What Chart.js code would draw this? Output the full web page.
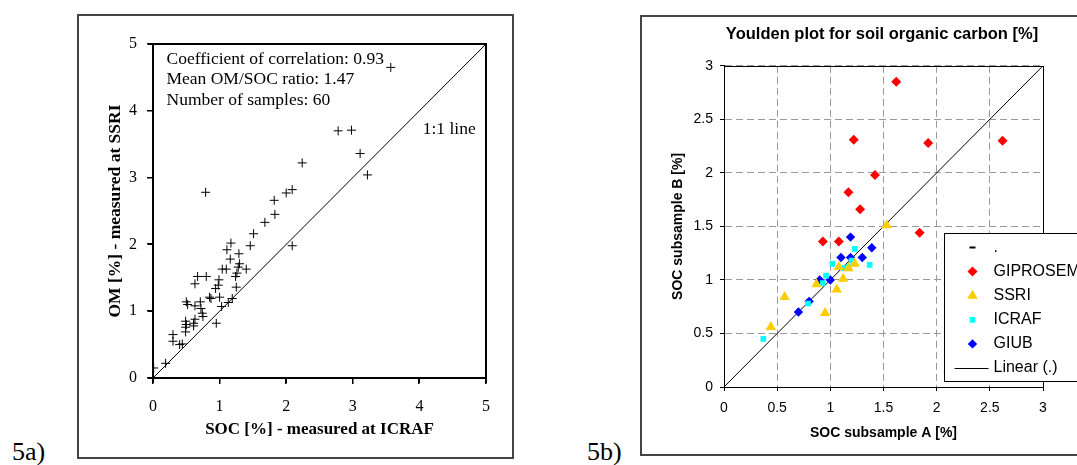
<!DOCTYPE html>
<html>
<head>
<meta charset="utf-8">
<script src="https://cdn.jsdelivr.net/npm/chart.js@4.4.1/dist/chart.umd.min.js"></script>
<style>
  html, body { margin: 0; padding: 0; background: #fff; width: 1077px; height: 465px; overflow: hidden; }
  .frame { position: absolute; border: 2px solid #444; box-sizing: border-box; }
  #frameA { left: 77px; top: 14px; width: 437px; height: 445px; }
  #frameB { left: 640px; top: 15px; width: 470px; height: 441px; }
  .fig { position: absolute; top: 439px; font-family: "Liberation Serif", "Times New Roman", serif; font-size: 26px; line-height: 26px; color: #000; }
  #chartA { position: absolute; left: 77px; top: 14px; }
  #chartB { position: absolute; left: 640px; top: 15px; }
</style>
</head>
<body>
<div class="frame" id="frameA"></div>
<div class="frame" id="frameB"></div>
<div class="fig" style="left:12px">5a)</div>
<div class="fig" style="left:587px">5b)</div>
<canvas id="chartA" width="437" height="445"></canvas>
<canvas id="chartB" width="484" height="441"></canvas>
<script>
// ---- 5a: OM (SSRI) vs SOC (ICRAF) ----
const socIcraf = [3.57, 2.78, 2.98, 3.11, 3.22, 2.24, 0.79, 2.00, 2.09, 1.82,
                  1.83, 1.68, 1.51, 1.46, 2.09, 1.17, 1.11, 1.29, 1.16, 1.04,
                  1.10, 1.30, 1.28, 1.40, 1.26, 1.24, 1.25, 1.19, 1.13, 0.67,
                  0.80, 0.63, 0.99, 0.98, 0.94, 0.85, 0.87, 1.00, 1.03, 0.95,
                  0.50, 0.52, 0.63, 0.71, 0.72, 0.74, 0.75, 0.49, 0.50, 0.49,
                  0.63, 0.61, 0.61, 0.49, 0.30, 0.30, 0.40, 0.44, 0.19, 0.01];
const omSsri = [4.65, 3.70, 3.71, 3.36, 3.04, 3.22, 2.78, 2.77, 2.82, 2.66,
                2.45, 2.33, 2.16, 1.98, 1.98, 2.02, 1.92, 1.86, 1.78, 1.63,
                1.63, 1.71, 1.66, 1.63, 1.57, 1.52, 1.36, 1.19, 1.13, 1.52,
                1.52, 1.41, 1.47, 1.39, 1.34, 1.21, 1.19, 1.21, 1.07, 0.82,
                1.14, 1.10, 1.08, 1.14, 1.04, 0.97, 0.92, 0.85, 0.80, 0.76,
                0.88, 0.82, 0.78, 0.69, 0.65, 0.55, 0.50, 0.51, 0.22, 0.15];
const ticksA = ['0', '1', '2', '3', '4', '5'];
const lineA = [0, 5];
const notesA = ['Coefficient of correlation: 0.93', 'Mean OM/SOC ratio: 1.47', 'Number of samples: 60'];

// ---- 5b: Youlden plot ----
const giprosemA = [1.62, 1.22, 1.92, 2.62, 1.42, 1.17, 1.28, 1.84, 0.93, 1.08];
const giprosemB = [2.85, 2.31, 2.28, 2.30, 1.98, 1.82, 1.66, 1.44, 1.36, 1.36];
const ssriA = [1.53, 0.57, 0.44, 0.95, 1.06, 1.12, 0.87, 1.08, 1.17, 1.23];
const ssriB = [1.51, 0.84, 0.56, 0.69, 0.91, 1.01, 0.96, 1.12, 1.11, 1.15];
const icrafA = [0.37, 1.02, 1.23, 1.37, 0.96, 1.13, 1.20, 0.79, 0.93, 1.17];
const icrafB = [0.45, 1.15, 1.29, 1.14, 1.04, 1.11, 1.18, 0.78, 0.97, 1.12];
const giubA = [1.19, 1.39, 1.10, 1.19, 1.30, 0.90, 1.00, 0.80, 0.70];
const giubB = [1.40, 1.30, 1.21, 1.21, 1.21, 1.00, 1.00, 0.80, 0.70];
const ticksB = ['0', '0.5', '1', '1.5', '2', '2.5', '3'];
const lineB = [0, 3];

const SERIF = '"Liberation Serif", "Times New Roman", serif';
const SANS = '"Liberation Sans", Arial, sans-serif';

function pts(xs, ys) { return xs.map((x, i) => ({x: x, y: ys[i]})); }

// 5a plot box: four sides plus outside tick marks
const boxA = {
    id: 'boxA',
    afterDraw(chart) {
        const {ctx, chartArea: a, scales} = chart;
        const l = Math.round(a.left), t = Math.round(a.top);
        const r = Math.round(a.right), b = Math.round(a.bottom);
        ctx.save();
        ctx.fillStyle = '#000';
        ctx.fillRect(l - 1, t - 1, r - l + 2, 2);      // top
        ctx.fillRect(r - 1, t - 1, 2, b - t + 2);      // right
        ctx.fillRect(l - 1, b - 1, r - l + 2, 2);      // bottom
        ctx.fillRect(l - 1, t - 1, 2, b - t + 2);      // left
        scales.x.ticks.forEach(tk => {
            const px = Math.round(scales.x.getPixelForValue(tk.value));
            ctx.fillRect(px - 1, b, 1.5, 6);
        });
        scales.y.ticks.forEach(tk => {
            const py = Math.round(scales.y.getPixelForValue(tk.value));
            ctx.fillRect(l - 6, py - 1, 6, 1.5);
        });
        ctx.restore();
    }
};

// 5b: top + right edges of the plot box
const boxB = {
    id: 'boxB',
    afterDraw(chart) {
        const {ctx, chartArea: a} = chart;
        const l = Math.round(a.left), t = Math.round(a.top);
        const r = Math.round(a.right), b = Math.round(a.bottom);
        ctx.save();
        ctx.fillStyle = '#000';
        ctx.fillRect(l, t, r - l + 1, 1);
        ctx.fillRect(r, t, 1, b - t + 1);
        ctx.restore();
    }
};

const notesPlugin = {
    id: 'notesA',
    afterDraw(chart) {
        const {ctx, chartArea: a, scales} = chart;
        ctx.save();
        ctx.fillStyle = '#000';
        ctx.font = '17.5px ' + SERIF;
        ctx.textBaseline = 'middle';
        ctx.textAlign = 'left';
        notesA.forEach((t, i) => ctx.fillText(t, a.left + 13.5, a.top + 15 + i * 20.7));
        ctx.fillText('1:1 line', scales.x.getPixelForValue(4.05), scales.y.getPixelForValue(3.72));
        ctx.restore();
    }
};

new Chart(document.getElementById('chartA'), {
    type: 'scatter',
    data: {
        datasets: [
            {
                data: pts(socIcraf, omSsri),
                pointStyle: 'cross',
                pointRadius: 4.5,
                borderColor: '#000',
                borderWidth: 1
            },
            {
                data: pts(lineA, lineA),
                showLine: true,
                borderColor: '#000',
                borderWidth: 1,
                pointRadius: 0
            }
        ]
    },
    options: {
        responsive: false,
        animation: false,
        devicePixelRatio: 1,
        layout: {padding: {left: 0, top: 30, right: 28, bottom: 0}},
        plugins: {legend: {display: false}, tooltip: {enabled: false}},
        scales: {
            x: {
                min: 0, max: 5,
                ticks: {stepSize: 1, padding: 14, color: '#000', font: {family: SERIF, size: 16},
                        callback: (v, i) => ticksA[i]},
                grid: {drawOnChartArea: false, tickLength: 5, color: '#000'},
                border: {color: '#000', width: 1},
                title: {display: true, text: 'SOC [%] - measured at ICRAF', color: '#000',
                        font: {family: SERIF, size: 17, weight: 'bold'}, padding: {top: 0, bottom: 19}},
                afterFit: s => { s.height = 81; }
            },
            y: {
                min: 0, max: 5,
                ticks: {stepSize: 1, padding: 11, color: '#000', font: {family: SERIF, size: 16},
                        callback: (v, i) => ticksA[i]},
                grid: {drawOnChartArea: false, tickLength: 5, color: '#000'},
                border: {color: '#000', width: 1},
                title: {display: true, text: 'OM [%] - measured at SSRI', color: '#000',
                        font: {family: SERIF, size: 17.5, weight: 'bold'}, padding: {top: 28, bottom: 0}},
                afterFit: s => { s.width = 76; }
            }
        }
    },
    plugins: [boxA, notesPlugin]
});

const seriesB = [
    {label: 'GIPROSEM', data: pts(giprosemA, giprosemB), pointStyle: 'rectRot', pointRadius: 5, backgroundColor: '#ff0000'},
    {label: 'SSRI', data: pts(ssriA, ssriB), pointStyle: 'triangle', pointRadius: 6, backgroundColor: '#ffcc00'},
    {label: 'ICRAF', data: pts(icrafA, icrafB), pointStyle: 'rect', pointRadius: 4, backgroundColor: '#00ffff'},
    {label: 'GIUB', data: pts(giubA, giubB), pointStyle: 'rectRot', pointRadius: 4.7, backgroundColor: '#0000ff'}
];

const legendB = {
    id: 'legendB',
    afterDraw(chart) {
        const {ctx, chartArea: a, width} = chart;
        const left = Math.round(a.right - 99.5) + 0.5, top = Math.round(a.top + 167.5) + 0.5, h = 148;
        ctx.save();
        ctx.fillStyle = '#fff';
        ctx.fillRect(left, top, width - left + 5, h);
        ctx.strokeStyle = '#000';
        ctx.lineWidth = 1;
        ctx.strokeRect(left, top, width - left + 5, h);
        ctx.font = '16px ' + SANS;
        ctx.textBaseline = 'middle';
        ctx.textAlign = 'left';
        const mx = left + 28, tx = left + 49;
        let y = top + 14;
        // first entry: dash marker with "."
        ctx.fillStyle = '#000';
        ctx.fillRect(mx - 3, y - 1, 6, 2);
        ctx.fillText('.', tx, y);
        chart.data.datasets.forEach((ds, i) => {
            if (!ds.label) return;
            y = top + 14 + (i + 1) * 24.1;
            ctx.fillStyle = ds.backgroundColor;
            Chart.helpers.drawPoint(ctx, {pointStyle: ds.pointStyle, radius: ds.pointRadius, rotation: 0, borderWidth: 0}, mx, y);
            ctx.fillStyle = '#000';
            ctx.fillText(ds.label, tx, y);
        });
        y = top + 14 + 5 * 24.1;
        ctx.beginPath();
        ctx.moveTo(left + 10, Math.round(y) + 0.5);
        ctx.lineTo(left + 44, Math.round(y) + 0.5);
        ctx.stroke();
        ctx.fillText('Linear (.)', tx, y);
        ctx.restore();
    }
};

new Chart(document.getElementById('chartB'), {
    type: 'scatter',
    data: {
        datasets: seriesB.map(s => Object.assign({pointBorderWidth: 0, borderWidth: 0}, s)).concat([{
            data: pts(lineB, lineB),
            showLine: true,
            borderColor: '#000',
            borderWidth: 1,
            pointRadius: 0
        }])
    },
    options: {
        responsive: false,
        animation: false,
        devicePixelRatio: 1,
        layout: {padding: 0},
        plugins: {
            legend: {display: false},
            tooltip: {enabled: false},
            title: {display: true, text: 'Youlden plot for soil organic carbon [%]', color: '#000',
                    font: {family: SANS, size: 16.5, weight: 'bold'}, padding: {top: 10, bottom: 21}}
        },
        scales: {
            x: {
                min: 0, max: 3,
                ticks: {stepSize: 0.5, padding: 8.5, color: '#000', font: {family: SANS, size: 14},
                        callback: (v, i) => ticksB[i]},
                grid: {color: '#9a9a9a', tickLength: 4, tickColor: '#000'},
                border: {color: '#000', width: 1, dash: [7, 4]},
                title: {display: true, text: 'SOC subsample A [%]', color: '#000',
                        font: {family: SANS, size: 14, weight: 'bold'}, padding: {top: 0, bottom: 14.6}},
                afterFit: s => { s.height = 69; }
            },
            y: {
                min: 0, max: 3,
                ticks: {stepSize: 0.5, padding: 7, color: '#000', font: {family: SANS, size: 14},
                        callback: (v, i) => ticksB[i]},
                grid: {color: '#9a9a9a', tickLength: 4, tickColor: '#000'},
                border: {color: '#000', width: 1, dash: [7, 4]},
                title: {display: true, text: 'SOC subsample B [%]', color: '#000',
                        font: {family: SANS, size: 14, weight: 'bold'}, padding: {top: 29.3, bottom: 0}},
                afterFit: s => { s.width = 84; }
            },
            yr: {
                position: 'right',
                ticks: {display: false},
                grid: {display: false},
                border: {display: false},
                afterFit: s => { s.width = 81; }
            }
        }
    },
    plugins: [boxB, legendB]
});
</script>
</body>
</html>
